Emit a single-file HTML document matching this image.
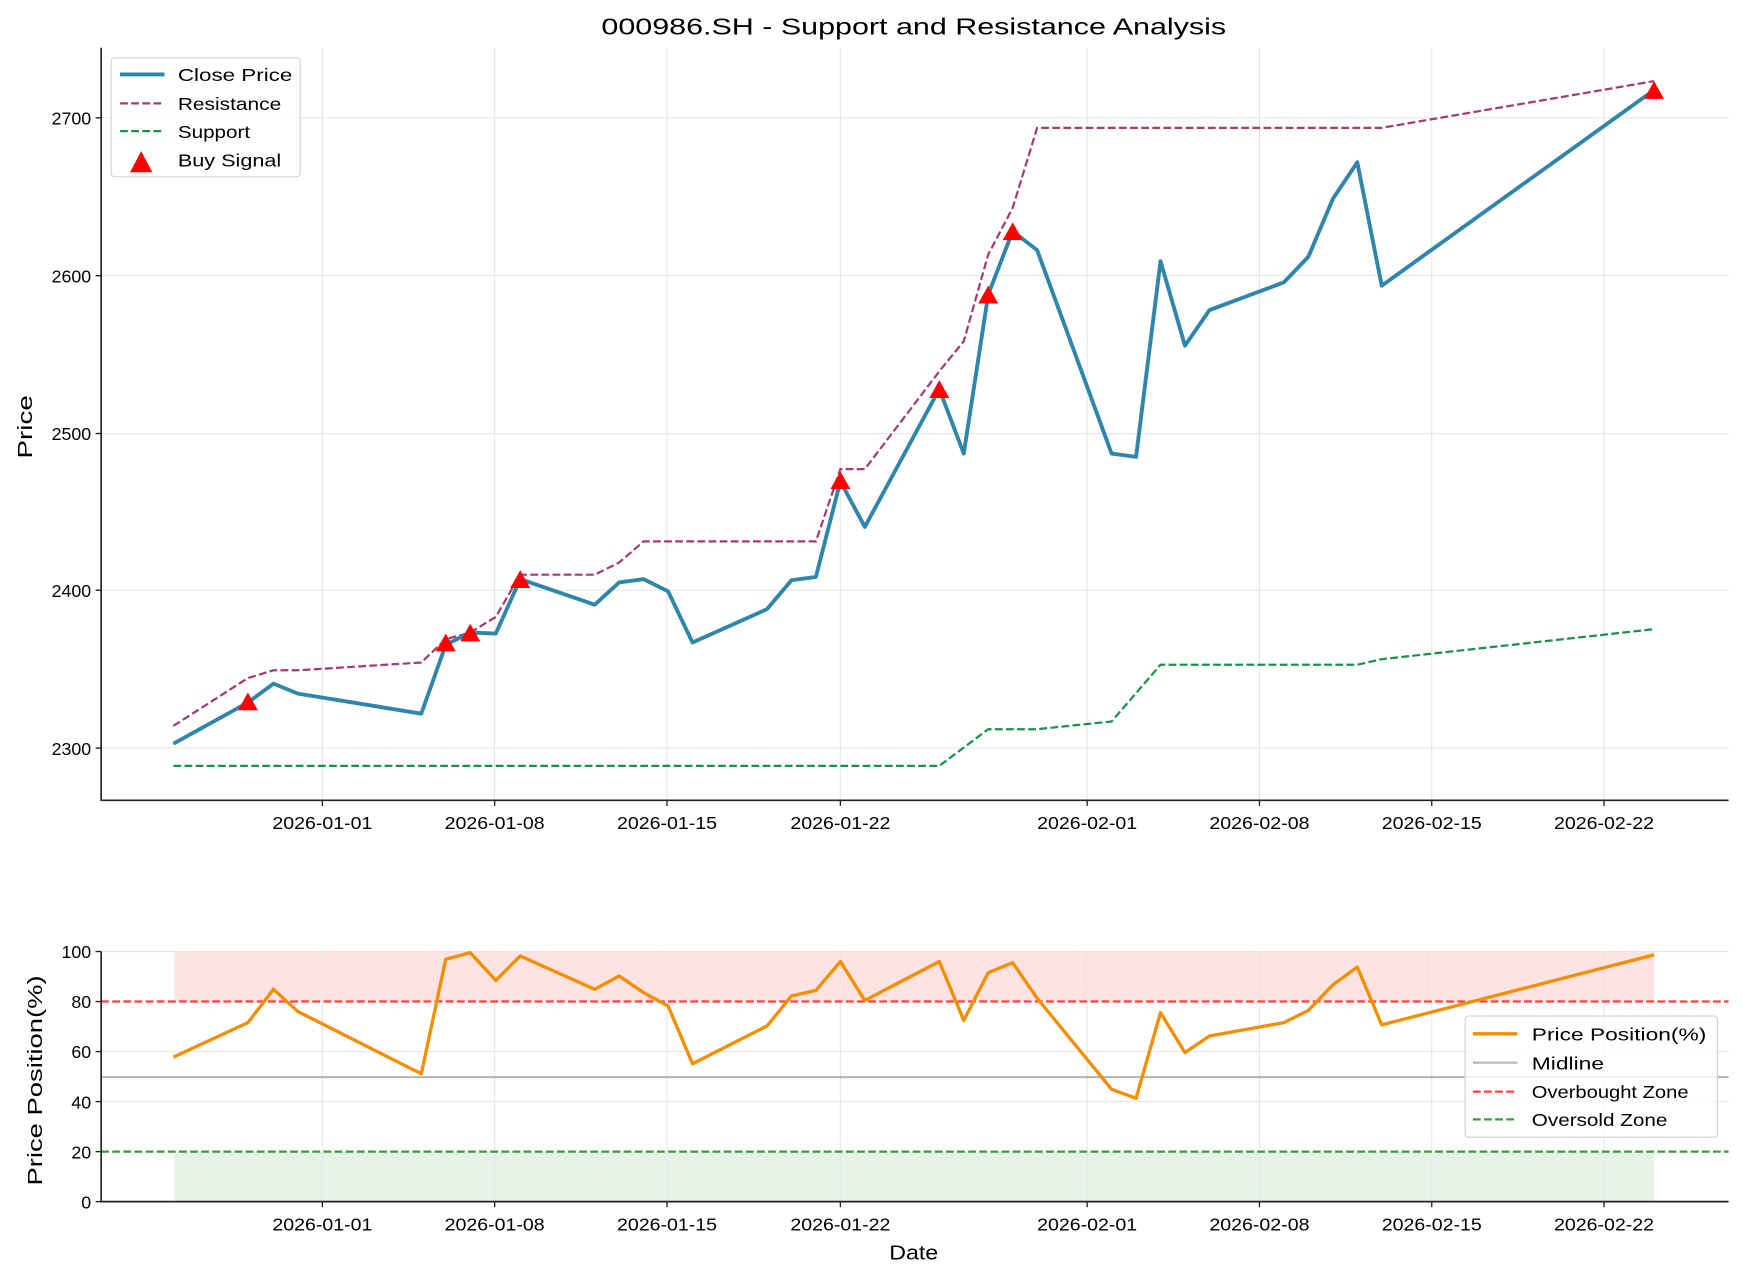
<!DOCTYPE html>
<html><head><meta charset="utf-8"><style>html,body{margin:0;padding:0;background:#fff}svg{display:block}text{font-family:"Liberation Sans","Noto Sans CJK SC",sans-serif;fill:#000}</style></head>
<body>
<svg width="1743" height="1280" viewBox="0 0 1568 1151.5" preserveAspectRatio="none" xmlns="http://www.w3.org/2000/svg">
<rect width="1568" height="1152" fill="#fff"/>
<text x="822" y="31" font-size="21" text-anchor="middle" textLength="562" lengthAdjust="spacingAndGlyphs">000986.SH - Support and Resistance Analysis</text>
<g stroke="#e6e6e6" stroke-width="1">
<line x1="290" y1="43" x2="290" y2="720"/><line x1="445" y1="43" x2="445" y2="720"/><line x1="600" y1="43" x2="600" y2="720"/><line x1="756" y1="43" x2="756" y2="720"/><line x1="978" y1="43" x2="978" y2="720"/><line x1="1133" y1="43" x2="1133" y2="720"/><line x1="1288" y1="43" x2="1288" y2="720"/><line x1="1443" y1="43" x2="1443" y2="720"/>
<line x1="91" y1="106" x2="1555" y2="106"/><line x1="91" y1="248" x2="1555" y2="248"/><line x1="91" y1="390" x2="1555" y2="390"/><line x1="91" y1="531" x2="1555" y2="531"/><line x1="91" y1="673" x2="1555" y2="673"/>
</g>
<polyline fill="none" stroke="#a23b72" stroke-width="2" stroke-dasharray="7,3" points="156,653 223,610 246,603 268,603 379,596 401,575 423,569 446,555 468,517 535,517 557,506 579,487 734,487 756,422 778,422 845,334 867,307 889,229 911,187 933,115 1243,115 1488,73"/>
<polyline fill="none" stroke="#18904f" stroke-width="2" stroke-dasharray="7,3" points="156,689 845,689 889,656 933,656 1000,649 1044,598 1221,598 1243,593 1488,566"/>
<polyline fill="none" stroke="#2e86ab" stroke-width="3.5" stroke-linejoin="round" points="156,669 223,632 246,615 268,624 379,642 401,580 423,569 446,570 468,521 535,544 557,524 579,521 601,532 623,578 690,548 712,522 734,519 756,433 778,474 845,350 867,408 889,265 911,208 933,225 1000,408 1022,411 1044,235 1066,311 1088,279 1155,254 1177,231 1199,179 1221,146 1243,257 1488,81"/>
<g fill="#ff0000">
<path d="M223,623 l-9,16 h18z"/><path d="M401,570 l-9,16 h18z"/><path d="M423,561 l-9,16 h18z"/><path d="M468,513 l-9,16 h18z"/><path d="M756,424 l-9,16 h18z"/><path d="M845,342 l-9,16 h18z"/><path d="M889,257 l-9,16 h18z"/><path d="M911,200 l-9,16 h18z"/><path d="M1488,73 l-9,16 h18z"/>
</g>
<g stroke="#222" stroke-width="1.5" fill="none"><line x1="91" y1="43" x2="91" y2="720"/><line x1="90.3" y1="720" x2="1555" y2="720"/></g>
<g stroke="#222" stroke-width="1.2">
<line x1="86" y1="106" x2="91" y2="106"/><line x1="86" y1="248" x2="91" y2="248"/><line x1="86" y1="390" x2="91" y2="390"/><line x1="86" y1="531" x2="91" y2="531"/><line x1="86" y1="673" x2="91" y2="673"/>
<line x1="290" y1="720" x2="290" y2="725"/><line x1="445" y1="720" x2="445" y2="725"/><line x1="600" y1="720" x2="600" y2="725"/><line x1="756" y1="720" x2="756" y2="725"/><line x1="978" y1="720" x2="978" y2="725"/><line x1="1133" y1="720" x2="1133" y2="725"/><line x1="1288" y1="720" x2="1288" y2="725"/><line x1="1443" y1="720" x2="1443" y2="725"/>
</g>
<g font-size="16" text-anchor="end"><text x="82" y="112">2700</text><text x="82" y="254">2600</text><text x="82" y="396">2500</text><text x="82" y="537">2400</text><text x="82" y="679">2300</text></g>
<g font-size="16" text-anchor="middle">
<text x="290" y="746" textLength="90" lengthAdjust="spacingAndGlyphs">2026-01-01</text><text x="445" y="746" textLength="90" lengthAdjust="spacingAndGlyphs">2026-01-08</text><text x="600" y="746" textLength="90" lengthAdjust="spacingAndGlyphs">2026-01-15</text><text x="756" y="746" textLength="90" lengthAdjust="spacingAndGlyphs">2026-01-22</text><text x="978" y="746" textLength="90" lengthAdjust="spacingAndGlyphs">2026-02-01</text><text x="1133" y="746" textLength="90" lengthAdjust="spacingAndGlyphs">2026-02-08</text><text x="1288" y="746" textLength="90" lengthAdjust="spacingAndGlyphs">2026-02-15</text><text x="1443" y="746" textLength="90" lengthAdjust="spacingAndGlyphs">2026-02-22</text>
</g>
<text transform="translate(29,384) rotate(-90)" font-size="18" text-anchor="middle" textLength="57" lengthAdjust="spacingAndGlyphs">Price</text>
<rect x="100" y="52" width="170" height="107" rx="3" fill="#fff" fill-opacity="0.8" stroke="#d0d0d0"/>
<line x1="108" y1="67" x2="148" y2="67" stroke="#2e86ab" stroke-width="3.5"/>
<line x1="108" y1="93" x2="148" y2="93" stroke="#a23b72" stroke-width="2" stroke-dasharray="7,3"/>
<line x1="108" y1="118" x2="148" y2="118" stroke="#18904f" stroke-width="2" stroke-dasharray="7,3"/>
<path d="M127,136 l-10,19 h20z" fill="#ff0000"/>
<g font-size="16"><text x="160" y="73" textLength="103" lengthAdjust="spacingAndGlyphs">Close Price</text><text x="160" y="99" textLength="93" lengthAdjust="spacingAndGlyphs">Resistance</text><text x="160" y="124" textLength="65" lengthAdjust="spacingAndGlyphs">Support</text><text x="160" y="150" textLength="93" lengthAdjust="spacingAndGlyphs">Buy Signal</text></g>
<rect x="157" y="856" width="1331" height="45" fill="#ff0000" fill-opacity="0.11"/>
<rect x="157" y="1036" width="1331" height="45" fill="#008000" fill-opacity="0.1"/>
<g stroke="#e6e6e6" stroke-width="1">
<line x1="290" y1="856" x2="290" y2="1081"/><line x1="445" y1="856" x2="445" y2="1081"/><line x1="600" y1="856" x2="600" y2="1081"/><line x1="756" y1="856" x2="756" y2="1081"/><line x1="978" y1="856" x2="978" y2="1081"/><line x1="1133" y1="856" x2="1133" y2="1081"/><line x1="1288" y1="856" x2="1288" y2="1081"/><line x1="1443" y1="856" x2="1443" y2="1081"/>
<line x1="91" y1="856" x2="1555" y2="856"/><line x1="91" y1="946" x2="1555" y2="946"/><line x1="91" y1="991" x2="1555" y2="991"/>
</g>
<line x1="91" y1="969" x2="1555" y2="969" stroke="#b8b8b8" stroke-width="2"/>
<line x1="91" y1="901" x2="1555" y2="901" stroke="#ff4040" stroke-width="2" stroke-dasharray="7,3"/>
<line x1="91" y1="1036" x2="1555" y2="1036" stroke="#33a033" stroke-width="2" stroke-dasharray="7,3"/>
<polyline fill="none" stroke="#f28e00" stroke-width="3" stroke-linejoin="round" points="156,951 223,920 246,890 268,910 379,966 401,863 423,857 446,882 468,860 535,890 557,878 579,893 601,905 623,957 690,923 712,896 734,891 756,865 778,900 845,865 867,918 889,875 911,866 933,898 1000,980 1022,988 1044,911 1066,947 1088,932 1155,920 1177,909 1199,886 1221,870 1243,922 1488,859"/>
<g stroke="#222" stroke-width="1.5"><line x1="91" y1="856" x2="91" y2="1081"/><line x1="90.3" y1="1081" x2="1555" y2="1081"/></g>
<g stroke="#222" stroke-width="1.2">
<line x1="86" y1="856" x2="91" y2="856"/><line x1="86" y1="901" x2="91" y2="901"/><line x1="86" y1="946" x2="91" y2="946"/><line x1="86" y1="991" x2="91" y2="991"/><line x1="86" y1="1036" x2="91" y2="1036"/><line x1="86" y1="1081" x2="91" y2="1081"/>
<line x1="290" y1="1081" x2="290" y2="1086"/><line x1="445" y1="1081" x2="445" y2="1086"/><line x1="600" y1="1081" x2="600" y2="1086"/><line x1="756" y1="1081" x2="756" y2="1086"/><line x1="978" y1="1081" x2="978" y2="1086"/><line x1="1133" y1="1081" x2="1133" y2="1086"/><line x1="1288" y1="1081" x2="1288" y2="1086"/><line x1="1443" y1="1081" x2="1443" y2="1086"/>
</g>
<g font-size="16" text-anchor="end"><text x="82" y="862">100</text><text x="82" y="907">80</text><text x="82" y="952">60</text><text x="82" y="997">40</text><text x="82" y="1042">20</text><text x="82" y="1087">0</text></g>
<g font-size="16" text-anchor="middle">
<text x="290" y="1107" textLength="90" lengthAdjust="spacingAndGlyphs">2026-01-01</text><text x="445" y="1107" textLength="90" lengthAdjust="spacingAndGlyphs">2026-01-08</text><text x="600" y="1107" textLength="90" lengthAdjust="spacingAndGlyphs">2026-01-15</text><text x="756" y="1107" textLength="90" lengthAdjust="spacingAndGlyphs">2026-01-22</text><text x="978" y="1107" textLength="90" lengthAdjust="spacingAndGlyphs">2026-02-01</text><text x="1133" y="1107" textLength="90" lengthAdjust="spacingAndGlyphs">2026-02-08</text><text x="1288" y="1107" textLength="90" lengthAdjust="spacingAndGlyphs">2026-02-15</text><text x="1443" y="1107" textLength="90" lengthAdjust="spacingAndGlyphs">2026-02-22</text>
</g>
<text x="822" y="1133" font-size="18" text-anchor="middle" textLength="44" lengthAdjust="spacingAndGlyphs">Date</text>
<text transform="translate(38,972) rotate(-90)" font-size="18" text-anchor="middle" textLength="189" lengthAdjust="spacingAndGlyphs">Price Position(%)</text>
<rect x="1318" y="914" width="227" height="109" rx="3" fill="#fff" fill-opacity="0.8" stroke="#d0d0d0"/>
<line x1="1325" y1="930" x2="1365" y2="930" stroke="#f28e00" stroke-width="3"/>
<line x1="1325" y1="956" x2="1365" y2="956" stroke="#b8b8b8" stroke-width="2"/>
<line x1="1325" y1="982" x2="1365" y2="982" stroke="#ff4040" stroke-width="2" stroke-dasharray="7,3"/>
<line x1="1325" y1="1007" x2="1365" y2="1007" stroke="#33a033" stroke-width="2" stroke-dasharray="7,3"/>
<g font-size="16"><text x="1378" y="936" textLength="157" lengthAdjust="spacingAndGlyphs">Price Position(%)</text><text x="1378" y="962" textLength="65" lengthAdjust="spacingAndGlyphs">Midline</text><text x="1378" y="988" textLength="141" lengthAdjust="spacingAndGlyphs">Overbought Zone</text><text x="1378" y="1013" textLength="122" lengthAdjust="spacingAndGlyphs">Oversold Zone</text></g>
</svg>
</body></html>
